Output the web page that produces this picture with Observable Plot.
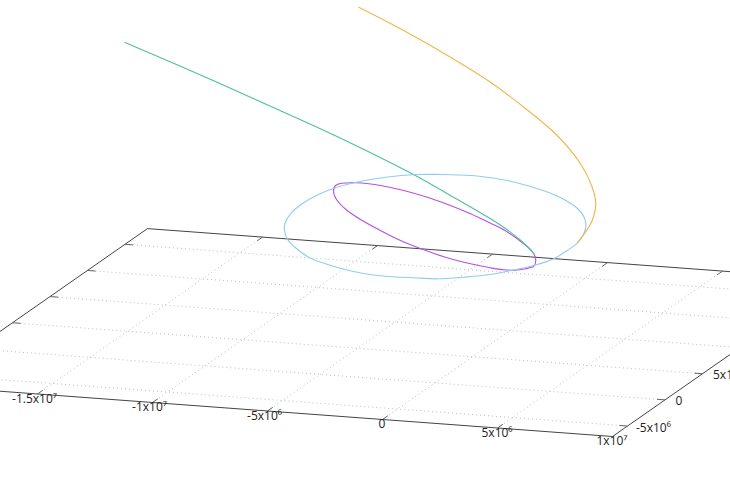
<!DOCTYPE html>
<html><head><meta charset="utf-8">
<style>html,body{margin:0;padding:0;background:#fff;overflow:hidden}svg{display:block;overflow:hidden}</style>
<script src="https://cdn.jsdelivr.net/npm/d3@7"></script>
<script src="https://cdn.jsdelivr.net/npm/@observablehq/plot@0.6"></script>
</head><body><div id="chart"></div>
<script>
// Ground-plane ticks in data units
const xTicks = [-1.5e7, -1e7, -5e6, 0, 5e6];
const xTickLabels = ["-1.5x10⁷", "-1x10⁷", "-5x10⁶", "0", "5x10⁶", "1x10⁷"];
const xLabelTicks = [-1.5e7, -1e7, -5e6, 0, 5e6, 1e7];
const yTicks = [-5e6, 0, 5e6, 1e7, 1.5e7, 2e7];
const yTickLabels = ["-5x10⁶", "0", "5x10⁶"];
const yLabelTicks = [-5e6, 0, 5e6];
const xMin = -2e7, xMax = 1e7, yMin = -7e6, yMax = 2.3e7;

// Projected view: the orbits
const purpleX = [333,336.7,346.7,361.7,380,400,423.3,446.7,470,490,503.3,513.3,525,533.3,535.3,533.3,526.7,516.7,503.3,490,470,450,426.7,403.3,380,368.3,355,341.7,335];
const purpleY = [190.7,200,210,220,230,240,249.3,257.3,263.3,267.3,269.3,269.7,268.3,265.7,260,253.3,246,238.3,229.3,222.7,213.3,205,196.7,190,185,183.3,182.3,182.7,185];
const greenX = [124.5,180,233.3,286.7,350,413,450,490,506.7,520,531.7,533];
const greenY = [42,65.8,89.3,113.2,142.4,174,195,218.3,229.3,239.8,251.2,253];
const blueX = [284,284.3,290,301.7,318,338,357,385,416.7,440,470,490,510,530,550,566.7,577.5,583.5,585.5,583.3,576.7,566.7,553.3,533.3,510,490,463,436.7,413,385,361.7,341.7,325,308.3,295,286.7];
const blueY = [230,223.3,213.3,203.3,194,186.3,181.5,176.7,174,174,175,177.3,180.7,186,192.7,200.7,208.5,216.5,225,233.3,242.7,250,258.3,265,270,274,276.7,278.3,277.3,275.7,272.7,268.3,263.3,256.7,247.3,238.3];
const orangeX = [358.3,400,450,490,523.3,556.7,580,591.7,595.3,591.7,585,577.3];
const orangeY = [6.7,28.3,56.7,81.7,106.7,135,163.3,186.7,203.3,220,231.7,241.7];

const zip = (a, b) => a.map((v, i) => ({vx: v, vy: b[i]}));

// gnuplot-like view: ground plane data -> view coordinates
const project = (x, y) => ({
  vx: 612 + (x - xMax) / 1e6 * 23.0 + (y - yMin) / 1e6 * 7.5,
  vy: 436 + (x - xMax) / 1e6 * 1.7 - (y - yMin) / 1e6 * 5.23
});
const seg = (x1, y1, x2, y2) => {
  const a = project(x1, y1), b = project(x2, y2);
  return {x1: a.vx, y1: a.vy, x2: b.vx, y2: b.vy};
};

const gridLines = [
  ...xTicks.map(v => seg(v, yMin, v, yMax)),
  ...yTicks.map(v => seg(xMin, v, xMax, v))
];
const border = [seg(xMin, yMin, xMax, yMin), seg(xMax, yMin, xMax, yMax), seg(xMax, yMax, xMin, yMax), seg(xMin, yMax, xMin, yMin)];
const tickLines = [
  ...xTicks.flatMap(v => [seg(v, yMin, v, yMin + 0.7e6), seg(v, yMax, v, yMax - 0.7e6)]),
  ...yTicks.flatMap(v => [seg(xMin, v, xMin + 0.35e6, v), seg(xMax, v, xMax - 0.35e6, v)])
];
const xLabels = xLabelTicks.map((v, i) => ({...project(v, yMin), t: xTickLabels[i], neg: v < 0}));
const yLabels = yLabelTicks.map((v, i) => ({...project(xMax, v), t: yTickLabels[i], neg: v < 0}));

const link = (data, o) => Plot.link(data, {x1: "x1", y1: "y1", x2: "x2", y2: "y2", ...o});
const font = {fontFamily: "'Open Sans','Liberation Sans',sans-serif", fontSize: 12, fill: "#222"};
const orbit = {x: "vx", y: "vy", strokeWidth: 1.15};

const chart = Plot.plot({
  width: 730, height: 486, margin: 0,
  style: {background: "#fff"},
  x: {domain: [0, 730], range: [0, 730], axis: null},
  y: {domain: [0, 486], range: [0, 486], axis: null},
  marks: [
    link(gridLines, {stroke: "#aaa", strokeWidth: 1, strokeDasharray: "1,3", strokeOpacity: 0.8}),
    link(border, {stroke: "#444", strokeWidth: 1}),
    link(tickLines, {stroke: "#666", strokeWidth: 1}),
    Plot.line(zip(purpleX, purpleY), {...orbit, stroke: "#b551e6", curve: "catmull-rom-closed"}),
    Plot.line(zip(greenX, greenY), {...orbit, stroke: "#4fc09f", curve: "catmull-rom"}),
    Plot.line(zip(blueX, blueY), {...orbit, stroke: "#8fcdf0", curve: "catmull-rom-closed"}),
    Plot.line(zip(orangeX, orangeY), {...orbit, stroke: "#eeb84c", curve: "catmull-rom"}),
    Plot.text(xLabels.filter(d => d.neg), {x: "vx", y: "vy", text: "t", textAnchor: "middle", dx: -3, dy: 5, ...font}),
    Plot.text(xLabels.filter(d => !d.neg), {x: "vx", y: "vy", text: "t", textAnchor: "middle", dx: -0.5, dy: 5, ...font}),
    Plot.text(yLabels.filter(d => d.neg), {x: "vx", y: "vy", text: "t", textAnchor: "start", dx: 8.5, dy: 2, ...font}),
    Plot.text(yLabels.filter(d => !d.neg), {x: "vx", y: "vy", text: "t", textAnchor: "start", dx: 10.5, dy: 1.5, ...font})
  ]
});
document.getElementById("chart").append(chart);
</script></body></html>
